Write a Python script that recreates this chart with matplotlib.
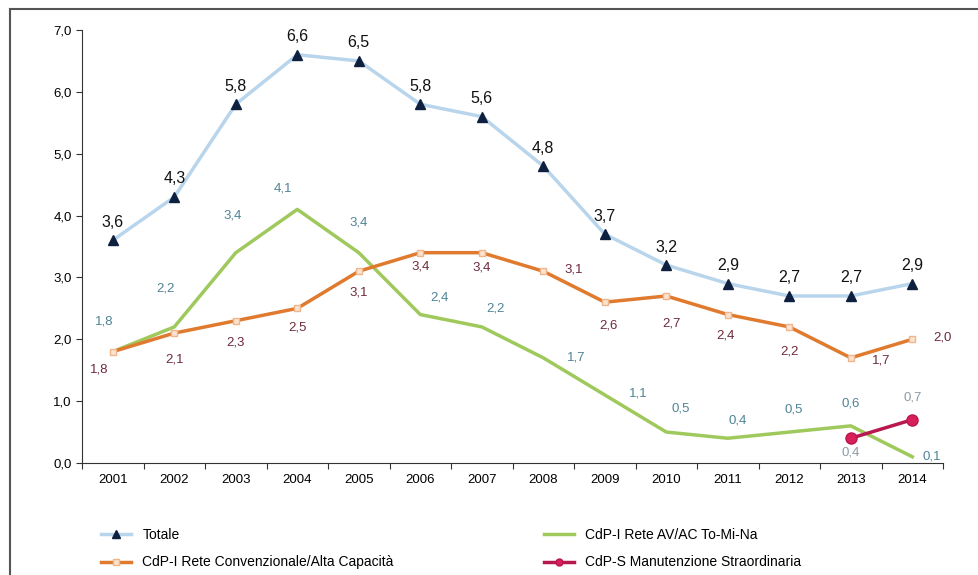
import matplotlib.pyplot as plt
from matplotlib.lines import Line2D

anni = ['2001', '2002', '2003', '2004', '2005', '2006', '2007',
        '2008', '2009', '2010', '2011', '2012', '2013', '2014']
totale = [3.6, 4.3, 5.8, 6.6, 6.5, 5.8, 5.6, 4.8, 3.7, 3.2, 2.9, 2.7, 2.7, 2.9]
av_ac = [1.8, 2.2, 3.4, 4.1, 3.4, 2.4, 2.2, 1.7, 1.1, 0.5, 0.4, 0.5, 0.6, 0.1]
convenzionale = [1.8, 2.1, 2.3, 2.5, 3.1, 3.4, 3.4, 3.1, 2.6, 2.7, 2.4, 2.2, 1.7, 2.0]
anni_straord = ['2013', '2014']
straordinaria = [0.4, 0.7]

# label offsets in points (dx, dy)
off_tot = [(0, 13)] * 14
off_av = [(-6, 22), (-6, 28), (-2, 27), (-10, 15), (0, 22), (14, 12), (10, 13),
          (24, 0), (24, 1), (10, 17), (7, 13), (3, 16), (0, 16), (14, 0)]
off_conv = [(-10, -13), (0, -19), (0, -16), (0, -14), (0, -15), (0, -10), (0, -11),
            (22, 1), (3, -17), (4, -20), (-2, -15), (0, -18), (22, -2), (22, 1)]
off_str = [(0, -10), (0, 16)]

def fmt(v):
    return f"{v:.1f}".replace('.', ',')

plt.rcParams['font.family'] = ['Liberation Sans', 'DejaVu Sans']
fig = plt.figure(figsize=(9.79, 5.75), dpi=100)
ax = fig.add_axes([0.0838, 0.1948, 0.8795, 0.753])

x = list(range(len(anni)))
xs = [anni.index(a) for a in anni_straord]

ax.plot(x, totale, color='#b9d5ec', lw=2.5, zorder=2)
ax.plot(x, totale, ls='none', marker='^', ms=7, color='#0e2040', zorder=5)
ax.plot(x, av_ac, color='#9fc95c', lw=2.5, zorder=3)
ax.plot(x, convenzionale, color='#e07a2e', lw=2.5, marker='s', ms=5,
        mfc='#fbe3cf', mec='#f0b58a', zorder=4)
ax.plot(xs, straordinaria, color='#b8184f', lw=2.5, marker='o', ms=8,
        mfc='#d81f5a', mec='#b8184f', zorder=6)

for i, v in enumerate(totale):
    ax.annotate(fmt(v), (i, v), xytext=off_tot[i], textcoords='offset points',
                ha='center', va='center', fontsize=11.5, color='#111111')
for i, v in enumerate(av_ac):
    ax.annotate(fmt(v), (i, v), xytext=off_av[i], textcoords='offset points',
                ha='center', va='center', fontsize=9.5, color='#4f8496')
for i, v in enumerate(convenzionale):
    ax.annotate(fmt(v), (i, v), xytext=off_conv[i], textcoords='offset points',
                ha='center', va='center', fontsize=9.5, color='#6e2a3c')
for j, v in enumerate(straordinaria):
    ax.annotate(fmt(v), (xs[j], v), xytext=off_str[j], textcoords='offset points',
                ha='center', va='center', fontsize=9.5, color='#8a9aa6')

ax.set_xlim(-0.5, 13.5)
ax.set_ylim(0, 7)
ax.set_xticks([i - 0.5 for i in range(15)], minor=False)
ax.set_xticklabels([])
ax.set_xticks(x, minor=True)
ax.set_xticklabels(anni, minor=True)
ax.tick_params(axis='x', which='minor', length=0, pad=8, labelsize=9.5)
ax.tick_params(axis='x', which='major', length=4, color='#333333')
ax.set_yticks(range(8))
ax.set_yticklabels([f"{v},0" for v in range(8)], fontsize=9.5)
ax.tick_params(axis='y', length=4, color='#333333')
for s in ['top', 'right']:
    ax.spines[s].set_visible(False)
ax.spines['left'].set_color('#333333')
ax.spines['bottom'].set_color('#333333')

# outer chart frame
fig.add_artist(Line2D([0.0102, 0.0102], [0.0, 0.984], transform=fig.transFigure,
                      color='#555555', lw=1.5))
fig.add_artist(Line2D([0.0102, 1.0], [0.984, 0.984], transform=fig.transFigure,
                      color='#555555', lw=1.5))

handles = [
    Line2D([], [], color='#b9d5ec', lw=2.5, marker='^', ms=6, mfc='#0e2040', mec='#0e2040'),
    Line2D([], [], color='#9fc95c', lw=2.5),
    Line2D([], [], color='#e07a2e', lw=2.5, marker='s', ms=5, mfc='#fbe3cf', mec='#f0b58a'),
    Line2D([], [], color='#b8184f', lw=2.5, marker='o', ms=5, mfc='#d81f5a'),
]
labels = ['Totale', 'CdP-I Rete AV/AC To-Mi-Na',
          'CdP-I Rete Convenzionale/Alta Capacità', 'CdP-S Manutenzione Straordinaria']
order = [0, 2, 1, 3]
fig.legend([handles[i] for i in order], [labels[i] for i in order], ncol=2,
           loc='lower left', bbox_to_anchor=(0.09, -0.012), frameon=False,
           fontsize=10, handlelength=2.2, columnspacing=10.8, labelspacing=0.95)

plt.savefig('out.png', dpi=100)
